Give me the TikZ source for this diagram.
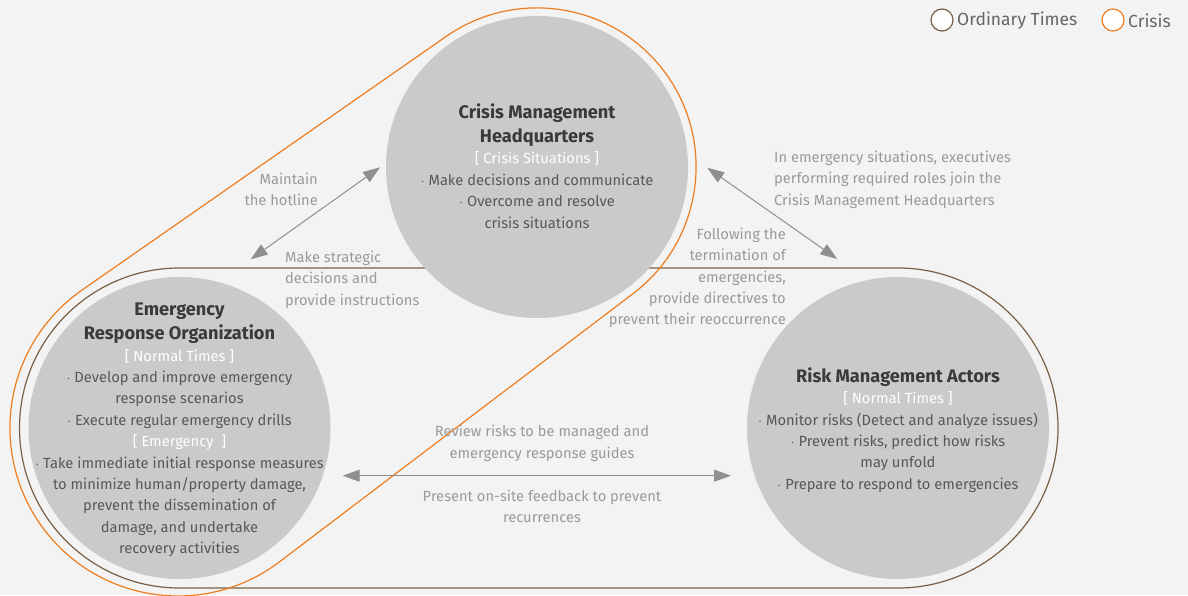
\documentclass[tikz,border=0pt]{standalone}
\usepackage{fontspec}
\setmainfont{Fira Sans}
\usetikzlibrary{arrows.meta}
\definecolor{bg}{HTML}{F2F3F2}
\definecolor{circfill}{HTML}{C9CAC9}
\definecolor{brownline}{HTML}{7A6045}
\definecolor{orangeline}{HTML}{EE7D22}
\definecolor{arrowgray}{HTML}{8F8F8F}
\definecolor{labelgray}{HTML}{9A9A9A}
\definecolor{bodygray}{HTML}{585858}
\definecolor{titlegray}{HTML}{3A3A3A}
\definecolor{legendgray}{HTML}{666666}
\tikzset{
  circ/.style={circle, fill=circfill, minimum size=302pt, inner sep=0pt},
  body/.style={align=center, inner sep=0pt, text=bodygray, font=\fontsize{14.7}{21.4}\selectfont},
  lbl/.style={inner sep=0pt, text=labelgray, font=\fontsize{14.7}{21.4}\selectfont},
  biarrow/.style={draw=arrowgray, line width=1pt, {Triangle[length=17pt,width=12pt]}-{Triangle[length=17pt,width=12pt]}},
  legcirc/.style={circle, draw, line width=1.2pt, fill=white, minimum size=22pt, inner sep=0pt},
  legtext/.style={inner sep=0pt, text=legendgray, font=\fontsize{17.5}{20}\selectfont, anchor=west}
}
\newcommand{\ttl}[1]{{\fontsize{18.2}{21.4}\selectfont\bfseries\color{titlegray}#1}}
\newcommand{\brk}[1]{{\color{white}#1}}
\begin{document}
\begin{tikzpicture}[x=1pt,y=1pt]
\useasboundingbox (0,0) rectangle (1188,595);
\fill[bg] (0,0) rectangle (1188,595);
% ordinary-times outline
\draw[brownline, line width=1.2pt] (179.5,327) -- (898,327) arc[start angle=90,end angle=-90,radius=160] -- (179.5,7) arc[start angle=270,end angle=90,radius=160] -- cycle;
% crisis outline
\draw[orangeline, line width=1.2pt] (446.1,558.5) arc[start angle=124.9,end angle=-52.8,radius=159] -- (279.5,33.2) arc[start angle=-52.8,end angle=-235.1,radius=168] -- cycle;
% arrow end points
\coordinate (a1s) at (250.7,335.7);
\coordinate (a1e) at (380,427.7);
\coordinate (a2s) at (707.3,427.3);
\coordinate (a2e) at (837.3,336);
\coordinate (a3s) at (342.7,119.3);
\coordinate (a3e) at (731,119.3);
\draw[biarrow] (a1s) -- (a1e);
\draw[biarrow] (a2s) -- (a2e);
\draw[biarrow] (a3s) -- (a3e);
% circles
\node[circ] (cmh) at (537,428) {};
\node[circ] (ero) at (179.5,167) {};
\node[circ] (rma) at (898,167) {};
\node[body] (cmhtext) at (537,429) {\ttl{Crisis Management}\\[2.5pt]\ttl{Headquarters}\\\brk{[ Crisis Situations ]}\\$\cdot$ Make decisions and communicate\\$\cdot$ Overcome and resolve\\crisis situations};
\node[body] (erotext) at (179.5,165) {\ttl{Emergency}\\[2.5pt]\ttl{Response Organization}\\\brk{[ Normal Times ]}\\$\cdot$ Develop and improve emergency\\response scenarios\\$\cdot$ Execute regular emergency drills\\\brk{[ Emergency\ \ ]}\\$\cdot$ Take immediate initial response measures\\to minimize human/property damage,\\prevent the dissemination of\\damage, and undertake\\recovery activities};
\node[body] (rmatext) at (898,165) {\ttl{Risk Management Actors}\\\brk{[ Normal Times ]}\\$\cdot$ Monitor risks (Detect and analyze issues)\\$\cdot$ Prevent risks, predict how risks\\may unfold\\$\cdot$ Prepare to respond to emergencies};
% labels
\node[lbl, align=right, anchor=east] (l1) at (318,405.5) {Maintain\\the hotline};
\node[lbl, align=left, anchor=west] (l2) at (285,315.5) {Make strategic\\decisions and\\provide instructions};
\node[lbl, align=left, anchor=west] (l3) at (774,415.5) {In emergency situations, executives\\performing required roles join the\\Crisis Management Headquarters};
\node[lbl, align=right, anchor=east] (l4) at (786,317) {Following the\\termination of\\emergencies,\\provide directives to\\prevent their reoccurrence};
\node[lbl, align=center] (l5) at (542,151.5) {Review risks to be managed and\\emergency response guides};
\node[lbl, align=center] (l6) at (542,88.5) {Present on-site feedback to prevent\\recurrences};
% legend
\node[legcirc, draw=brownline] (lg1) at (942,575) {};
\node[legtext] (lg1t) at (957,574) {Ordinary Times};
\node[legcirc, draw=orangeline] (lg2) at (1113,575) {};
\node[legtext] (lg2t) at (1128,574) {Crisis};
\end{tikzpicture}
\end{document}
